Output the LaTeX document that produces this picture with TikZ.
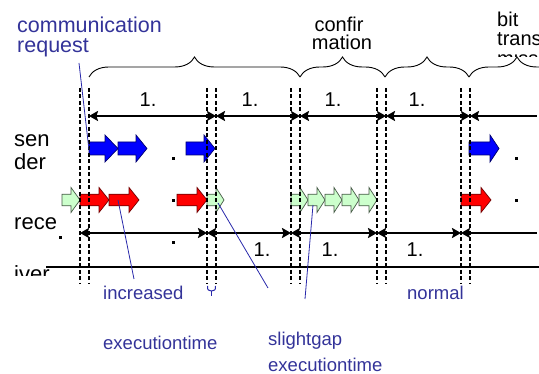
\documentclass[tikz,border=0pt]{standalone}
\usepackage{fontspec}
\setmainfont{Liberation Sans}
\usetikzlibrary{arrows.meta,decorations.pathreplacing}
\definecolor{lblue}{RGB}{51,51,153}
\definecolor{lline}{RGB}{40,40,170}
\definecolor{ablue}{RGB}{0,0,255}
\definecolor{ablueo}{RGB}{0,0,110}
\definecolor{ared}{RGB}{255,0,0}
\definecolor{aredo}{RGB}{110,0,0}
\definecolor{agreen}{RGB}{204,255,204}
\definecolor{agreeno}{RGB}{70,90,70}
\newcommand{\blkarrow}[5]{%
  \draw[#5] (#1,{#3-\sh}) -- ({#2-#4},{#3-\sh}) -- ({#2-#4},{#3-\hh}) -- (#2,#3)
    -- ({#2-#4},{#3+\hh}) -- ({#2-#4},{#3+\sh}) -- (#1,{#3+\sh}) -- cycle;}
\tikzset{
  dashline/.style={line width=1.3pt, dash pattern=on 4pt off 2.5pt},
  dimarrow/.style={line width=2.6pt},
  tipL/.style={{Stealth[length=9pt,width=10pt,inset=1.5pt]}-},
  tipLR/.style={{Stealth[length=9pt,width=10pt,inset=1.5pt]}-{Stealth[length=9pt,width=10pt,inset=1.5pt]}},
  bluearr/.style={fill=ablue, draw=ablueo, line width=0.7pt},
  redarr/.style={fill=ared, draw=aredo, line width=0.7pt},
  greenarr/.style={fill=agreen, draw=agreeno, line width=0.7pt},
  bracestyle/.style={decorate, decoration={brace, amplitude=20pt}, line width=0.9pt},
  leader/.style={draw=lline, line width=0.8pt},
  side/.style={font=\fontsize{22}{22}\selectfont, anchor=base west, inner sep=0pt},
  head/.style={font=\fontsize{20}{20}\selectfont, anchor=base west, inner sep=0pt},
  num/.style={font=\fontsize{20}{20}\selectfont, anchor=base, inner sep=0pt},
  bluetxt/.style={text=lblue, font=\fontsize{18.5}{18.5}\selectfont, anchor=base west, inner sep=0pt},
  bluebig/.style={text=lblue, font=\fontsize{21.5}{21.5}\selectfont, anchor=base west, inner sep=0pt},
  dotmark/.style={fill=black, minimum size=3pt, inner sep=0pt},
}
\begin{document}
\begin{tikzpicture}[x=1pt,y=-1pt]
\useasboundingbox (0,0) rectangle (539,374);
\clip (0,0) rectangle (539,374);

% block arrows: sender row
\def\sh{6.5}\def\hh{13.5}
\blkarrow{89}{118}{148.5}{13}{bluearr}
\blkarrow{118}{147}{148.5}{11}{bluearr}
\blkarrow{186}{215}{148.5}{11}{bluearr}
\blkarrow{469}{499}{148.5}{9}{bluearr}
% receiver row
\def\sh{5.8}\def\hh{12.5}
\blkarrow{62}{80}{200}{9}{greenarr}
\blkarrow{80}{109}{200}{10}{redarr}
\blkarrow{109}{139}{200}{10}{redarr}
\blkarrow{177}{207}{200}{10}{redarr}
\blkarrow{207}{224}{200}{8}{greenarr}
\blkarrow{291}{308}{200}{8}{greenarr}
\blkarrow{308}{325}{200}{8}{greenarr}
\blkarrow{325}{342}{200}{8}{greenarr}
\blkarrow{342}{359}{200}{8}{greenarr}
\blkarrow{359}{377}{200}{8}{greenarr}
\blkarrow{461}{491}{200}{10}{redarr}

% dashed vertical pairs
\foreach \n/\x in {a/80,b/89,c/207,d/216,e/291,f/300,g/377,h/386,i/461,j/470} {
  \coordinate (top\n) at (\x,88);
  \coordinate (bot\n) at (\x,284);
  \coordinate (up\n) at (\x,116);
  \coordinate (lo\n) at (\x,233);
  \draw[dashline] (top\n) -- (bot\n);
}
\coordinate (upend) at (537,116);
\coordinate (loend) at (537,233);

% dimension arrows
\draw[dimarrow, tipLR] (upb) -- (upd);
\draw[dimarrow, tipLR] (upd) -- (upf);
\draw[dimarrow, tipLR] (upf) -- (uph);
\draw[dimarrow, tipLR] (uph) -- (upj);
\draw[dimarrow, tipL] (upj) -- (upend);
\draw[dimarrow, tipLR] (loa) -- (loc);
\draw[dimarrow, tipLR] (loc) -- (loe);
\draw[dimarrow, tipLR] (loe) -- (log);
\draw[dimarrow, tipLR] (log) -- (loi);
\draw[dimarrow, tipL] (loi) -- (loend);

\node[num] (n1) at (148,107) {1.};
\node[num] (n2) at (250,107) {1.};
\node[num] (n3) at (333,107) {1.};
\node[num] (n4) at (417,107) {1.};
\node[num] (n5) at (262,257) {1.};
\node[num] (n6) at (330,257) {1.};
\node[num] (n7) at (415,257) {1.};

% base line
\coordinate (bl0) at (46,267);
\coordinate (bl1) at (539,267);
\draw[line width=2.5pt] (bl0) -- (bl1);

% braces
\coordinate (br0) at (89,77);
\coordinate (br1) at (300,77);
\coordinate (br2) at (385,77);
\coordinate (br3) at (469,77);
\coordinate (br4) at (565,77);
\draw[bracestyle] (br0) -- (br1);
\draw[bracestyle] (br1) -- (br2);
\draw[bracestyle] (br2) -- (br3);
\draw[bracestyle] (br3) -- (br4);

% dots
\foreach \n/\x/\y in {d1/173/159, d2/173/201, d3/173/243, d4/60/238, d5/516/159, d6/516/201} {
  \node[dotmark] (\n) at (\x,\y) {};
}

% side labels
\node[side] (sen) at (14,147) {sen};
\node[side] (der) at (14,170) {der};
\node[side] (rece) at (14,230) {rece};
\begin{scope}
  \clip (0,265) rectangle (60,276);
  \node[side] (iver) at (14,282) {iver};
\end{scope}

% top labels
\node[head, anchor=base] (confir) at (339,32) {confir};
\node[head, anchor=base] (mation) at (342,50) {mation};
\node[head] (bit) at (497,27) {bit};
\node[head] (trans) at (497,46) {trans};
\begin{scope}
  \clip (490,53.5) rectangle (539,57);
  \node[head] (mission) at (497,66) {mission};
\end{scope}

% blue labels
\node[bluebig] (comm) at (17,33) {communication};
\node[bluebig] (req) at (17,53) {request};
\node[bluetxt] (incr) at (103,300) {increased};
\node[bluetxt] (exec1) at (103,350) {executiontime};
\node[bluetxt] (slight) at (268,346) {slightgap};
\node[bluetxt] (exec2) at (268,372) {executiontime};
\node[bluetxt] (normal) at (407,300) {normal};

% leader lines
\coordinate (l1a) at (79,63);  \coordinate (l1b) at (89,150);
\coordinate (l2a) at (118,200); \coordinate (l2b) at (134,279);
\coordinate (l3a) at (218,203); \coordinate (l3b) at (268,288);
\coordinate (l4a) at (313,205); \coordinate (l4b) at (305,299);
\draw[leader] (l1a) -- (l1b);
\draw[leader] (l2a) -- (l2b);
\draw[leader] (l3a) -- (l3b);
\draw[leader] (l4a) -- (l4b);

% small blue Y below second pair
\coordinate (ya) at (207.5,286);
\coordinate (yb) at (215.5,286);
\coordinate (yc) at (211.5,291);
\coordinate (yd) at (211.5,296);
\draw[leader, line width=1pt] (ya) .. controls (207.5,290) .. (yc);
\draw[leader, line width=1pt] (yb) .. controls (215.5,290) .. (yc);
\draw[leader, line width=1pt] (yc) -- (yd);
\end{tikzpicture}
\end{document}
